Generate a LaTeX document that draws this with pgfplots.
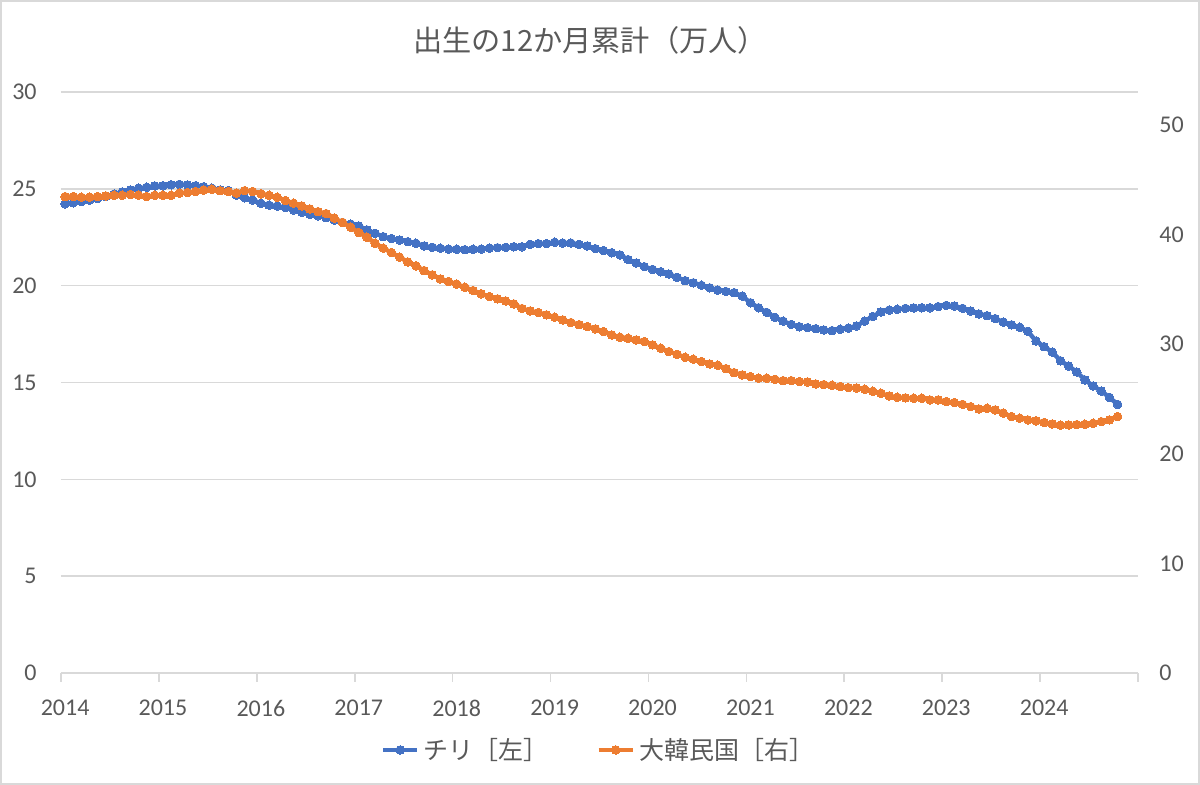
\documentclass[border=0pt]{standalone}
\usepackage{fontspec}
\setmainfont{Carlito}
\newfontfamily\jp{Noto Sans CJK JP}
\usepackage{pgfplots}
\pgfplotsset{compat=1.18}
\definecolor{txtgray}{HTML}{595959}
\definecolor{gridgray}{HTML}{D9D9D9}
\definecolor{cblue}{HTML}{4472C4}
\definecolor{corange}{HTML}{ED7D31}
\begin{document}
\begin{tikzpicture}
\useasboundingbox (-30.5pt,-56pt) rectangle (569.5pt,336.5pt);
\draw[gridgray, line width=0.8pt] (-30.1pt,-55.6pt) rectangle (569.1pt,336.1pt);
\pgfplotsset{
  common/.style={
    at={(0,0)}, anchor=south west,
    scale only axis, width=538.5pt, height=290.5pt,
    xmin=-0.5, xmax=131.5,
    /pgf/number format/assume math mode=true,
    tick label style={font=\fontsize{12}{14}\selectfont, text=txtgray},
    major tick length=0pt,
    clip=false,
  }
}
\begin{axis}[common,
  ymin=0, ymax=30, ytick={0,5,...,30},
  ymajorgrids, grid style={draw=gridgray, line width=0.7pt},
  axis x line*=bottom, axis y line*=left,
  y axis line style={draw=none},
  x axis line style={draw=gridgray, line width=0.8pt},
  xtick={0,12,...,120},
  xticklabels={2014,2015,2016,2017,2018,2019,2020,2021,2022,2023,2024},
  xticklabel style={inner sep=0pt, anchor=north, yshift=-13.5pt},
  yticklabel style={inner sep=0pt, anchor=east, xshift=-12pt},
  extra x ticks={-0.5,11.5,...,131.5},
  extra x tick labels={},
  extra x tick style={major tick length=4.5pt, tick align=outside,
     tick style={draw=gridgray, line width=0.8pt}},
]
\addplot[cblue, line width=2.2pt, mark=*, mark size=2.15pt, mark options={fill=cblue, draw=cblue, line width=0pt}] table {
x y
0 24.23
1 24.28
2 24.34
3 24.42
4 24.50
5 24.60
6 24.73
7 24.84
8 24.94
9 25.03
10 25.08
11 25.15
12 25.16
13 25.21
14 25.23
15 25.20
16 25.16
17 25.11
18 25.03
19 24.94
20 24.91
21 24.68
22 24.54
23 24.42
24 24.25
25 24.16
26 24.11
27 24.03
28 23.91
29 23.79
30 23.68
31 23.61
32 23.51
33 23.39
34 23.27
35 23.18
36 23.08
37 22.88
38 22.70
39 22.53
40 22.43
41 22.36
42 22.27
43 22.19
44 22.05
45 21.98
46 21.93
47 21.89
48 21.88
49 21.86
50 21.88
51 21.89
52 21.94
53 21.96
54 21.98
55 22.01
56 22.01
57 22.13
58 22.17
59 22.17
60 22.24
61 22.20
62 22.20
63 22.13
64 22.05
65 21.91
66 21.81
67 21.70
68 21.59
69 21.35
70 21.17
71 20.98
72 20.84
73 20.72
74 20.60
75 20.43
76 20.26
77 20.15
78 20.02
79 19.89
80 19.77
81 19.70
82 19.64
83 19.46
84 19.12
85 18.86
86 18.62
87 18.36
88 18.17
89 18.00
90 17.88
91 17.83
92 17.78
93 17.71
94 17.68
95 17.75
96 17.81
97 17.92
98 18.17
99 18.41
100 18.64
101 18.74
102 18.78
103 18.83
104 18.85
105 18.86
106 18.86
107 18.92
108 18.98
109 18.95
110 18.83
111 18.69
112 18.54
113 18.45
114 18.30
115 18.12
116 17.98
117 17.85
118 17.64
119 17.14
120 16.85
121 16.57
122 16.12
123 15.85
124 15.54
125 15.13
126 14.82
127 14.56
128 14.23
129 13.87
};
\end{axis}
\begin{axis}[common,
  ymin=0, ymax=53, ytick={0,10,...,50},
  axis x line=none, axis y line*=right,
  y axis line style={draw=none},
  yticklabel style={inner sep=0pt, anchor=west, xshift=10.5pt},
  legend style={at={(0.5,-0.1325)}, anchor=center, draw=none, fill=none,
    legend columns=2, font=\jp\fontsize{12.5}{14}\selectfont, text=txtgray,
    /tikz/every even column/.append style={column sep=22pt}},
]
\addlegendimage{cblue, line width=2.2pt, mark=*, mark size=2.15pt, mark options={fill=cblue, draw=cblue, line width=0pt}}
\addlegendentry{チリ［左］}
\addplot[corange, line width=2.2pt, mark=*, mark size=2.15pt, mark options={fill=corange, draw=corange, line width=0pt}] table {
x y
0 43.46
1 43.46
2 43.40
3 43.40
4 43.46
5 43.52
6 43.58
7 43.58
8 43.65
9 43.58
10 43.46
11 43.58
12 43.58
13 43.58
14 43.77
15 43.83
16 43.92
17 44.05
18 44.13
19 44.00
20 43.92
21 43.77
22 44.00
23 43.92
24 43.71
25 43.58
26 43.40
27 43.09
28 42.85
29 42.61
30 42.33
31 42.09
32 41.91
33 41.50
34 41.09
35 40.66
36 40.18
37 39.75
38 39.20
39 38.75
40 38.35
41 37.93
42 37.50
43 37.14
44 36.71
45 36.32
46 35.95
47 35.71
48 35.47
49 35.19
50 34.89
51 34.59
52 34.34
53 34.13
54 33.94
55 33.67
56 33.25
57 33.03
58 32.88
59 32.67
60 32.45
61 32.21
62 31.97
63 31.78
64 31.60
65 31.39
66 31.14
67 30.84
68 30.63
69 30.54
70 30.38
71 30.23
72 29.93
73 29.62
74 29.32
75 29.07
76 28.80
77 28.62
78 28.41
79 28.19
80 28.07
81 27.77
82 27.40
83 27.19
84 27.04
85 26.89
86 26.89
87 26.79
88 26.67
89 26.67
90 26.58
91 26.55
92 26.37
93 26.31
94 26.25
95 26.13
96 26.03
97 26.00
98 25.88
99 25.70
100 25.52
101 25.27
102 25.15
103 25.10
104 25.06
105 25.06
106 24.91
107 24.91
108 24.76
109 24.67
110 24.51
111 24.30
112 24.09
113 24.15
114 24.00
115 23.70
116 23.39
117 23.24
118 23.09
119 23.00
120 22.85
121 22.72
122 22.60
123 22.63
124 22.66
125 22.69
126 22.78
127 22.93
128 23.09
129 23.39
};
\addlegendentry{大韓民国［右］}
\end{axis}
\node[text=txtgray, font=\jp\fontsize{14.6}{16}\selectfont] at (264.5pt,316.5pt) {出生の12か月累計（万人）};
\end{tikzpicture}
\end{document}
